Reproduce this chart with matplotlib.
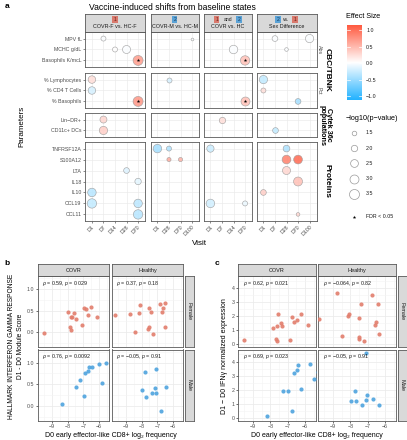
import numpy as np
import matplotlib.pyplot as plt
from matplotlib.colors import LinearSegmentedColormap, Normalize

plt.rcParams['font.family'] = ['Liberation Sans', 'DejaVu Sans']
plt.rcParams['mathtext.fontset'] = 'custom'
plt.rcParams['mathtext.rm'] = 'Liberation Sans'
plt.rcParams['mathtext.it'] = 'Liberation Sans:italic'

# ---------------- panel a data ----------------
comparisons = ['COVR-F vs. HC-F', 'COVR-M vs. HC-M', 'COVR vs. HC', 'Sex Difference']
visits = [['D1', 'D7', 'D14', 'D28', 'D70'],
          ['D1', 'D28', 'D70', 'D100'],
          ['D1', 'D7', 'D14', 'D70'],
          ['D1', 'D7', 'D28', 'D70', 'D100']]

cbc_abs = ['MPV fL', 'MCHC g/dL', 'Basophils K/mcL']
cbc_pct = ['% Lymphocytes', '% CD4 T Cells', '% Basophils']
cytek = ['Lin\u2212DR+', 'CD11c+ DCs']
proteins = ['TNFRSF12A', 'S100A12', 'LTA', 'IL18', 'IL10', 'CCL19', 'CCL11']
param_rows = [cbc_abs, cbc_pct, cytek, proteins]

# COVR-F vs. HC-F
p1_param = ['MPV fL', 'MCHC g/dL', 'MCHC g/dL', 'Basophils K/mcL', '% Lymphocytes', '% CD4 T Cells',
            '% Basophils', 'Lin\u2212DR+', 'CD11c+ DCs', 'LTA', 'IL18', 'IL10', 'CCL19', 'CCL19', 'CCL11']
p1_visit = ['D7', 'D14', 'D28', 'D70', 'D1', 'D1', 'D70', 'D7', 'D7', 'D28', 'D70', 'D1', 'D1', 'D70', 'D70']
p1_effect = [0.0, 0.02, 0.0, 0.7, 0.25, -0.2, 0.75, 0.3, 0.35, -0.15, -0.12, -0.35, -0.3, -0.33, -0.35]
p1_logp = [1.6, 1.6, 2.6, 3.5, 2.4, 2.4, 3.5, 2.2, 2.7, 1.8, 2.0, 2.8, 3.2, 2.8, 3.2]
p1_fdr = [0, 0, 0, 1, 0, 0, 1, 0, 0, 0, 0, 0, 0, 0, 0]

# COVR-M vs. HC-M
p2_param = ['MPV fL', '% Lymphocytes', 'TNFRSF12A', 'TNFRSF12A', 'S100A12', 'S100A12']
p2_visit = ['D100', 'D28', 'D1', 'D28', 'D28', 'D70']
p2_effect = [0.0, -0.2, -0.45, -0.4, 0.6, 0.55]
p2_logp = [1.15, 1.6, 2.8, 1.6, 1.4, 1.4]
p2_fdr = [0, 0, 0, 0, 0, 0]

# COVR vs. HC
p3_param = ['MCHC g/dL', 'Basophils K/mcL', '% Basophils', 'Lin\u2212DR+', 'TNFRSF12A', 'CCL19', 'CCL19']
p3_visit = ['D14', 'D70', 'D70', 'D7', 'D1', 'D1', 'D70']
p3_effect = [0.0, 0.45, 0.45, 0.25, -0.25, -0.22, -0.08]
p3_logp = [2.8, 3.2, 3.0, 2.0, 2.3, 2.8, 1.6]
p3_fdr = [0, 1, 1, 0, 0, 0, 0]

# Sex Difference
p4_param = ['MPV fL', 'MPV fL', 'MCHC g/dL', '% Lymphocytes', '% CD4 T Cells', '% Basophils', 'CD11c+ DCs',
            'TNFRSF12A', 'S100A12', 'S100A12', 'LTA', 'IL18', 'IL10', 'CCL11']
p4_visit = ['D7', 'D100', 'D28', 'D1', 'D1', 'D70', 'D7', 'D28', 'D28', 'D70', 'D28', 'D70', 'D1', 'D70']
p4_effect = [0.0, 0.0, 0.0, -0.3, 0.25, -0.45, -0.3, -0.4, 0.9, 1.05, 0.3, 0.45, 0.35, 0.3]
p4_logp = [1.8, 2.7, 1.3, 2.7, 1.6, 1.8, 1.8, 2.1, 2.9, 2.9, 2.6, 3.0, 1.8, 1.3]
p4_fdr = [0] * 14

size_breaks = [1.5, 2.0, 2.5, 3.0, 3.5]
cbar_ticks = [1.0, 0.5, 0.0, -0.5, -1.0]

# ---------------- panel b / c data ----------------
b_covr_f_x = [-9.51, -7.97, -7.59, -7.78, -7.69, -7.48, -7.84, -7.78, -7.06, -6.94, -6.81, -6.68, -6.52, -6.12]
b_covr_f_y = [-0.01, 0.48, 0.45, 0.35, 0.36, 0.30, 0.13, 0.06, 0.16, 0.57, 0.53, 0.41, 0.59, 0.35]
b_hc_f_x = [-9.65, -8.71, -8.43, -8.16, -8.07, -7.53, -7.42, -7.55, -7.59, -7.27, -6.85, -6.62, -6.73, -6.54, -6.52]
b_hc_f_y = [0.41, 0.43, 0.01, 0.45, 0.63, 0.57, 0.46, 0.12, 0.07, -0.04, 0.65, 0.57, 0.47, 0.67, 0.13]
b_covr_m_x = [-8.33, -7.44, -7.19, -6.94, -6.87, -6.68, -6.66, -6.45, -6.03, -5.80, -5.59]
b_covr_m_y = [0.06, 0.44, 0.59, 0.23, 0.77, 0.80, 0.90, 0.91, 0.96, 0.54, 0.98]
b_hc_m_x = [-7.97, -7.76, -7.73, -7.36, -7.15, -7.11, -7.06, -6.77, -6.47]
b_hc_m_y = [0.38, 0.78, 0.20, 0.30, 0.41, 0.86, 0.30, -0.12, 0.43]
b_labels = [r'$\rho$ = 0.59, $p$ = 0.029', r'$\rho$ = 0.37, $p$ = 0.18',
            r'$\rho$ = 0.76, $p$ = 0.0092', r'$\rho$ = $-$0.05, $p$ = 0.91']

c_covr_f_x = [-9.51, -7.86, -7.63, -7.55, -7.40, -7.32, -7.69, -7.63, -6.85, -6.75, -6.62, -6.45, -6.26, -5.82]
c_covr_f_y = [0.33, 1.16, 1.28, 2.16, 1.53, 1.28, 0.40, 0.26, 0.33, 1.91, 1.58, 1.70, 2.14, 1.33]
c_hc_f_x = [-9.80, -8.77, -8.47, -8.16, -8.09, -7.51, -7.38, -7.53, -7.48, -7.21, -6.73, -6.58, -6.54, -6.39, -6.37]
c_hc_f_y = [1.77, 3.65, 0.56, 2.00, 2.14, 1.84, 2.84, 0.37, 0.51, 0.26, 3.53, 1.40, 1.58, 2.88, 0.74]
c_covr_m_x = [-8.22, -7.27, -7.00, -6.73, -6.64, -6.45, -6.43, -6.22, -5.72, -5.51, -5.23]
c_covr_m_y = [0.16, 1.94, 1.94, 0.53, 3.22, 3.40, 3.77, 2.03, 3.86, 2.74, 3.26]
c_hc_m_x = [-7.08, -7.76, -7.97, -7.67, -7.32, -7.04, -7.08, -6.71, -6.33]
c_hc_m_y = [4.59, 1.94, 1.19, 1.19, 0.94, 1.67, 1.30, 1.37, 0.94]
c_labels = [r'$\rho$ = 0.62, $p$ = 0.021', r'$\rho$ = $-$0.064, $p$ = 0.82',
            r'$\rho$ = 0.69, $p$ = 0.023', r'$\rho$ = $-$0.05, $p$ = 0.91']

W, H = 407, 440
fig = plt.figure(figsize=(W / 100, H / 100), dpi=100)

GRID = '#EBEBEB'
FRAME = '#5A5A5A'
TXT = '#4D4D4D'
STRIP = '#D9D9D9'
RED_BADGE = '#D9796D'
BLUE_BADGE = '#5AA2D6'


def ax_at(x0, y0, x1, y1):
    return fig.add_axes([x0 / W, 1 - y1 / H, (x1 - x0) / W, (y1 - y0) / H])


def ftext(x, y, s, **kw):
    return fig.text(x / W, 1 - y / H, s, **kw)


def frame(ax, color=FRAME, lw=0.6):
    for sp in ax.spines.values():
        sp.set_color(color)
        sp.set_linewidth(lw)


def radius(v):
    # area grows linearly with -log10(p), like scale_size
    return np.sqrt(np.maximum(9.85 * np.asarray(v, float) - 9.5, 1.6))


def msize(v):
    return (2 * radius(v) * 0.72) ** 2


cmap = LinearSegmentedColormap.from_list('eff', ['#22B2FF', '#FFFFFF', '#FF5A40'])
norm = Normalize(vmin=-1.12, vmax=1.16)

# ---------------- panel a ----------------
ftext(5, 6, 'a', fontsize=6, fontweight='bold', va='center')
ftext(172, 8, 'Vaccine-induced shifts from baseline states', fontsize=6.2, ha='center', va='center')

cols = [(85, 145), (150.5, 199), (203.5, 252), (256.5, 316.5)]
rows = [(32, 67), (73, 108), (113, 137), (142, 221)]
pdata = [(p1_param, p1_visit, p1_effect, p1_logp, p1_fdr),
         (p2_param, p2_visit, p2_effect, p2_logp, p2_fdr),
         (p3_param, p3_visit, p3_effect, p3_logp, p3_fdr),
         (p4_param, p4_visit, p4_effect, p4_logp, p4_fdr)]

for c in range(4):
    vis = visits[c]
    par, vs, eff, lp, fdr = pdata[c]
    for r in range(4):
        prm = param_rows[r]
        ax = ax_at(cols[c][0], rows[r][0], cols[c][1], rows[r][1])
        ax.set_xlim(-0.6, len(vis) - 0.4)
        ax.set_ylim(len(prm) - 0.4, -0.6)
        ax.set_xticks(range(len(vis)))
        ax.set_yticks(range(len(prm)))
        ax.grid(True, color=GRID, lw=0.5)
        ax.set_axisbelow(True)
        frame(ax)
        ax.tick_params(length=1.5, width=0.4, color='#333333', labelsize=3.8, labelcolor=TXT, pad=1)
        if c == 0:
            ax.set_yticklabels(prm)
        else:
            ax.set_yticklabels([])
            ax.tick_params(axis='y', length=0)
        if r == 3:
            ax.set_xticklabels(vis, rotation=45, ha='right', rotation_mode='anchor')
        else:
            ax.set_xticklabels([])
            ax.tick_params(axis='x', length=0)
        xs, ys, cs, ss, st = [], [], [], [], []
        for i in range(len(par)):
            if par[i] in prm:
                xs.append(vis.index(vs[i]))
                ys.append(prm.index(par[i]))
                cs.append(eff[i])
                ss.append(lp[i])
                st.append(fdr[i])
        if xs:
            ax.scatter(xs, ys, s=msize(ss), c=cs, cmap=cmap, norm=norm, alpha=0.85,
                       edgecolors='#9A9A9A', linewidths=0.45, zorder=3)
            sx = [xs[k] for k in range(len(xs)) if st[k]]
            sy = [ys[k] for k in range(len(ys)) if st[k]]
            ax.scatter(sx, sy, marker='*', s=7, color='black', lw=0, zorder=4)

    # strip on top
    sa = ax_at(cols[c][0], 14, cols[c][1], 32)
    sa.set_facecolor(STRIP)
    sa.set_xticks([])
    sa.set_yticks([])
    frame(sa)
    sa.text(0.5, 0.3, comparisons[c], fontsize=3.9, ha='center', va='center', color='#1A1A1A',
            transform=sa.transAxes)
    bkw = dict(fontsize=3.6, ha='center', va='center', transform=sa.transAxes)
    red_box = dict(boxstyle='square,pad=0.25', fc=RED_BADGE, ec='none')
    blue_box = dict(boxstyle='square,pad=0.25', fc=BLUE_BADGE, ec='none')
    if c == 0:
        sa.text(0.5, 0.7, '1', color='#6B1E14', bbox=red_box, **bkw)
    elif c == 1:
        sa.text(0.5, 0.7, '2', color='#123A5C', bbox=blue_box, **bkw)
    elif c == 2:
        sa.text(0.27, 0.7, '1', color='#6B1E14', bbox=red_box, **bkw)
        sa.text(0.5, 0.7, 'and', color='#1A1A1A', **bkw)
        sa.text(0.73, 0.7, '2', color='#123A5C', bbox=blue_box, **bkw)
    else:
        sa.text(0.36, 0.7, '2', color='#123A5C', bbox=blue_box, **bkw)
        sa.text(0.5, 0.7, 'vs.', color='#1A1A1A', **bkw)
        sa.text(0.64, 0.7, '1', color='#6B1E14', bbox=red_box, **bkw)

# row strip labels
ftext(319.5, 49.5, 'Abs', fontsize=3.8, rotation=-90, ha='center', va='center', color=TXT)
ftext(319.5, 90.5, 'Pct', fontsize=3.8, rotation=-90, ha='center', va='center', color=TXT)
ftext(327.5, 70, 'CBC/TBNK', fontsize=6, fontweight='bold', rotation=-90, ha='center', va='center')
ftext(325, 125, 'Cytek 36c\npopulations', fontsize=5.2, fontweight='bold', rotation=-90,
      ha='center', va='center', linespacing=0.95)
ftext(327.5, 181.5, 'Proteins', fontsize=6, fontweight='bold', rotation=-90, ha='center', va='center')

ftext(22, 126, 'Parameters', fontsize=5.8, rotation=90, ha='center', va='center')
ftext(199, 243, 'Visit', fontsize=5.8, ha='center', va='center')

# effect size colourbar
ftext(346, 17, 'Effect Size', fontsize=5.2, va='center')
cax = ax_at(347, 25, 362, 100)
grad = np.linspace(norm.vmax, norm.vmin, 256)[:, None]
cax.imshow(grad, aspect='auto', cmap=cmap, norm=norm, extent=[0, 1, norm.vmin, norm.vmax])
cax.set_xlim(0, 1)
cax.set_ylim(norm.vmin, norm.vmax)
for t in cbar_ticks:
    cax.plot([0, 0.2], [t, t], color='white', lw=0.5)
    cax.plot([0.8, 1], [t, t], color='white', lw=0.5)
cax.set_xticks([])
cax.yaxis.tick_right()
cax.set_yticks(cbar_ticks)
cax.set_yticklabels(['1.0', '0.5', '0.0', '\u22120.5', '\u22121.0'])
cax.tick_params(axis='y', length=0, labelsize=3.8, labelcolor='#1A1A1A', pad=3)
for sp in cax.spines.values():
    sp.set_visible(False)

# size legend
ftext(346, 118, '\u2212log10(p\u2212value)', fontsize=5.2, va='center')
lax = ax_at(340, 124, 407, 225)
lax.set_xlim(340, 407)
lax.set_ylim(225, 124)
lax.axis('off')
for i, v in enumerate(size_breaks):
    yy = 133 + 15.2 * i
    lax.scatter([354], [yy], s=msize([v]), facecolors='white', edgecolors='#9A9A9A', linewidths=0.5)
    lax.text(366, yy, str(v), fontsize=3.8, va='center', color='#1A1A1A')
lax.scatter([354], [217], marker='*', s=7, color='black', lw=0)
lax.text(366, 217, 'FDR < 0.05', fontsize=3.8, va='center', color='#1A1A1A')


# ---------------- panels b and c ----------------
def facet_scatter(left, mid, right_end, series, labels, ylim, yticks, ytlabels, minor):
    top = (276, 347)
    bot = (349.5, 421)
    boxes = [(left, top), (mid, top), (left, bot), (mid, bot)]
    for k, ((x0, x1), (y0, y1)) in enumerate(boxes):
        ax = ax_at(x0, y0, x1, y1)
        xs, ys, col = series[k]
        ax.set_xlim(-9.87, -5.37)
        ax.set_ylim(*ylim)
        ax.set_xticks([-9, -8, -7, -6])
        ax.set_xticks([-9.5, -8.5, -7.5, -6.5, -5.5], minor=True)
        ax.set_yticks(yticks)
        ax.set_yticks(minor, minor=True)
        ax.grid(True, which='major', color=GRID, lw=0.55)
        ax.grid(True, which='minor', color='#F4F4F4', lw=0.4)
        ax.set_axisbelow(True)
        frame(ax)
        ax.tick_params(which='major', length=1.5, width=0.4, labelsize=3.8, labelcolor=TXT, pad=1)
        ax.tick_params(which='minor', length=0)
        if k in (0, 2):
            ax.set_yticklabels(ytlabels)
        else:
            ax.set_yticklabels([])
            ax.tick_params(axis='y', length=0)
        if k in (2, 3):
            ax.set_xticklabels(['\u22129', '\u22128', '\u22127', '\u22126'])
        else:
            ax.set_xticklabels([])
            ax.tick_params(axis='x', length=0)
        ax.scatter(xs, ys, s=9, color=col, lw=0, alpha=0.9, zorder=3)
        ax.text(0.06, 0.9, labels[k], fontsize=3.8, transform=ax.transAxes, va='center', color='#1A1A1A')
    for (x0, x1), name in [(left, 'COVR'), (mid, 'Healthy')]:
        sa = ax_at(x0, 264, x1, 276)
        sa.set_facecolor(STRIP)
        sa.set_xticks([])
        sa.set_yticks([])
        frame(sa)
        sa.text(0.5, 0.5, name, fontsize=4, ha='center', va='center', color='#1A1A1A', transform=sa.transAxes)
    for (y0, y1), name in [(top, 'Female'), (bot, 'Male')]:
        sa = ax_at(mid[1] + 1.5, y0, right_end, y1)
        sa.set_facecolor(STRIP)
        sa.set_xticks([])
        sa.set_yticks([])
        frame(sa)
        sa.text(0.5, 0.5, name, fontsize=4, rotation=-90, ha='center', va='center', color='#1A1A1A',
                transform=sa.transAxes)


RED = '#E27D6C'
BLUE = '#4EA3DE'
xlab = 'D0 early effector-like CD8+ log\u2082 frequency'

ftext(4, 263, 'b', fontsize=6, fontweight='bold', va='center')
facet_scatter((38, 109), (112, 183), 194,
              [(b_covr_f_x, b_covr_f_y, RED), (b_hc_f_x, b_hc_f_y, RED),
               (b_covr_m_x, b_covr_m_y, BLUE), (b_hc_m_x, b_hc_m_y, BLUE)],
              b_labels, (-0.34, 1.3), [0.0, 0.5, 1.0], ['0.0', '0.5', '1.0'], [-0.25, 0.25, 0.75, 1.25])
ftext(12, 346, 'HALLMARK INTERFERON GAMMA RESPONSE', fontsize=4.8, rotation=90, ha='center', va='center')
ftext(20, 346, 'D1 - D0 Module Score', fontsize=4.8, rotation=90, ha='center', va='center')
ftext(110.5, 435, xlab, fontsize=5, ha='center', va='center')

ftext(215, 263, 'c', fontsize=6, fontweight='bold', va='center')
facet_scatter((238, 316), (318, 396), 407,
              [(c_covr_f_x, c_covr_f_y, RED), (c_hc_f_x, c_hc_f_y, RED),
               (c_covr_m_x, c_covr_m_y, BLUE), (c_hc_m_x, c_hc_m_y, BLUE)],
              c_labels, (-0.2, 4.85), [0, 1, 2, 3, 4], ['0', '1', '2', '3', '4'], [0.5, 1.5, 2.5, 3.5, 4.5])
ftext(225, 356, 'D1 \u2212 D0 IFN\u03b3 normalized expression', fontsize=5, rotation=90, ha='center', va='center')
ftext(317, 435, xlab, fontsize=5, ha='center', va='center')

fig.savefig('out.png', dpi=100)
